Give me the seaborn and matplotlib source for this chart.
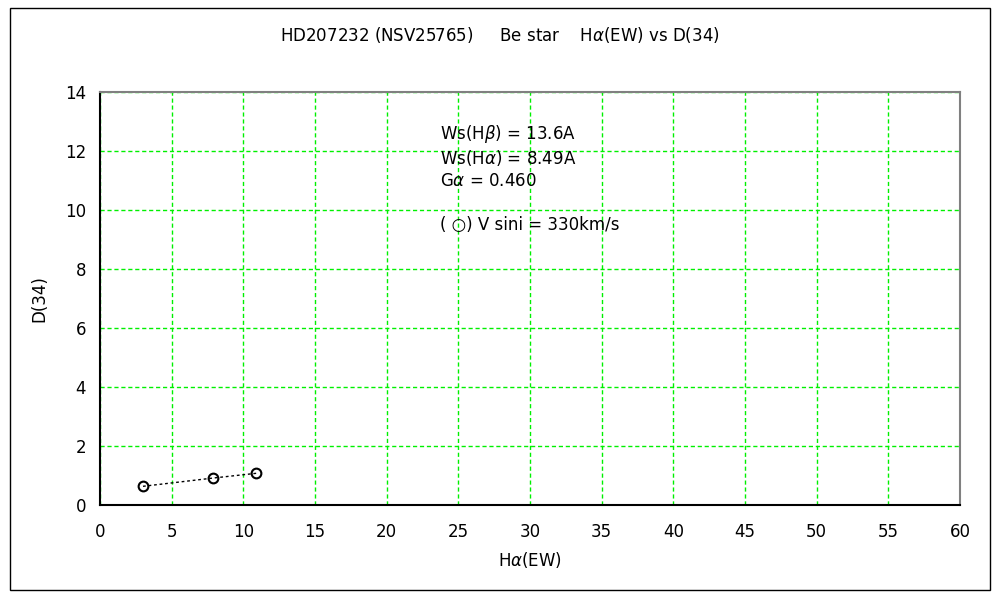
import matplotlib
matplotlib.use('Agg')
import matplotlib.pyplot as plt
import seaborn as sns
import pandas as pd
from matplotlib.patches import Rectangle

# data
ha_ew = [3.0, 7.9, 10.9]
d34 = [0.64, 0.92, 1.08]

df = pd.DataFrame({'Ha': ha_ew, 'D34': d34})

sns.set_style('white')
plt.rcParams['font.family'] = ['DejaVu Sans']
plt.rcParams['mathtext.fontset'] = 'dejavusans'
plt.rcParams['text.color'] = 'black'
plt.rcParams['axes.labelcolor'] = 'black'

fig = plt.figure(figsize=(10, 6), dpi=100)
ax = fig.add_axes([0.1, 0.158, 0.86, 0.689])

# outer frame
fig.patches.append(Rectangle((0.01, 0.017), 0.98, 0.97, transform=fig.transFigure,
                             fill=False, edgecolor='black', linewidth=1))

sns.lineplot(data=df, x='Ha', y='D34', ax=ax, color='black', linestyle=(0, (2, 2)),
             linewidth=1, marker='o', markersize=7, markerfacecolor='none',
             markeredgecolor='black', markeredgewidth=1.5)

ax.set_xlim(0, 60)
ax.set_ylim(0, 14)
ax.set_xticks(range(0, 61, 5))
ax.set_yticks(range(0, 15, 2))
ax.grid(True, color='#00f000', linestyle=(0, (3, 2)), linewidth=1)
ax.tick_params(direction='in', length=4, labelsize=12, colors='black')
ax.tick_params(axis='x', pad=13)
ax.tick_params(axis='y', pad=10)

for s in ['left', 'bottom']:
    ax.spines[s].set_color('black')
    ax.spines[s].set_linewidth(1.5)
for s in ['top', 'right']:
    ax.spines[s].set_color('#808080')
    ax.spines[s].set_linewidth(1.5)

ax.set_xlabel(r'H$\alpha$(EW)', fontsize=12, labelpad=6)
ax.set_ylabel('D(34)', fontsize=12, labelpad=12)

fig.text(0.5, 0.942, r'HD207232 (NSV25765)     Be star    H$\alpha$(EW) vs D(34)',
         ha='center', va='center', fontsize=12)

ax.text(0.395, 0.898, r'Ws(H$\beta$) = 13.6A', transform=ax.transAxes, fontsize=12, va='center')
ax.text(0.395, 0.841, r'Ws(H$\alpha$) = 8.49A', transform=ax.transAxes, fontsize=12, va='center')
ax.text(0.395, 0.785, r'G$\alpha$ = 0.460', transform=ax.transAxes, fontsize=12, va='center')
ax.text(0.395, 0.678, '( ○) V sini = 330km/s', transform=ax.transAxes, fontsize=12, va='center')

fig.savefig('out.png', dpi=100)
